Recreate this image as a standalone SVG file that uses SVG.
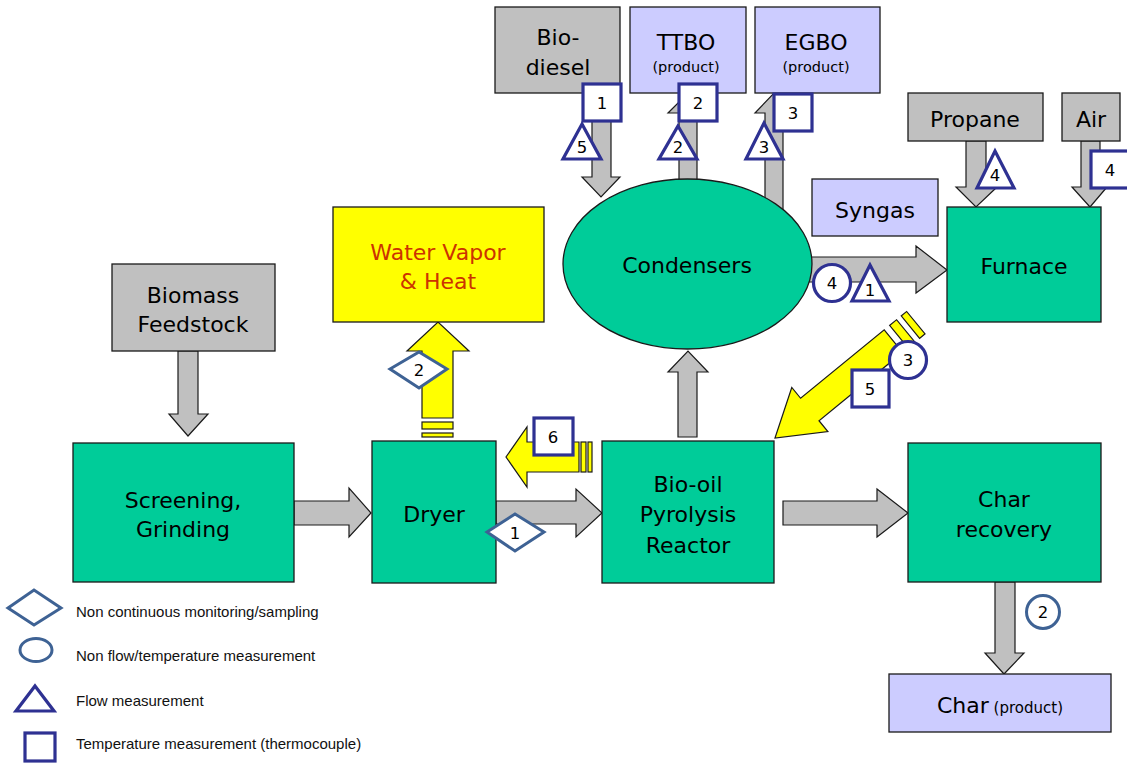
<svg xmlns="http://www.w3.org/2000/svg" width="1127" height="765" viewBox="0 0 1127 765">
<style>
.box{stroke:#1a1a1a;stroke-width:1.3}
.g{fill:#00cc99}
.gr{fill:#c0c0c0}
.lv{fill:#ccccff}
.ye{fill:#ffff00}
.ga{fill:#c0c0c0;stroke:#1a1a1a;stroke-width:1.2}
.ya{fill:#ffff00;stroke:#1a1a1a;stroke-width:1.2}
.t{font-family:"DejaVu Sans",Verdana,sans-serif;font-size:22px;fill:#000;text-anchor:middle}
.p{font-family:"DejaVu Sans",Verdana,sans-serif;font-size:14.5px;fill:#000;text-anchor:middle}
.n{font-family:"DejaVu Sans",Verdana,sans-serif;font-size:16.5px;fill:#000;text-anchor:middle}
.nv{fill:#fff;stroke:#2e3192;stroke-width:3.2}
.sb{fill:#fff;stroke:#3e6294;stroke-width:3}
.lg{font-family:"Liberation Sans",Arial,sans-serif;font-size:15px;fill:#111}
</style>

<g id="connectors">
  <polygon class="ga" points="178,351 198,351 198,414 208,414 188,436 169,414 178,414"/>
  <polygon class="ga" points="294,501 349,501 349,488 371,513 349,537 349,525 294,525"/>
  <polygon class="ga" points="496,501 576,501 576,489 602,513 576,537 576,524 496,524"/>
  <polygon class="ga" points="678,437 678,372 668,372 688,351 708,372 697,372 697,437"/>
  <polygon class="ga" points="783,501 877,501 877,489 908,513 877,537 877,525 783,525"/>
  <polygon class="ga" points="995,582 1015,582 1015,653 1024,653 1004,674 985,653 995,653"/>
  <polygon class="ga" points="790,257 916,257 916,246 947,270 916,293 916,282 790,282"/>
  <polygon class="ga" points="966,141 986,141 986,187 997,187 976,207 956,187 966,187"/>
  <polygon class="ga" points="1081,141 1100,141 1100,187 1107,187 1090,207 1072,187 1081,187"/>
  <polygon class="ga" points="592,93 611,93 611,177 620,177 601,197 582,177 592,177"/>
  <polygon class="ga" points="679,190 679,113 668,113 688,93 708,113 697,113 697,190"/>
  <polygon class="ga" points="765,225 765,113 755,113 774,93 793,113 783,113 783,225"/>
  <g id="vapor-arrow">
    <polygon class="ya" points="422,418 422,351 407,351 438,322 469,351 453,351 453,418"/>
    <rect class="ya" x="422" y="422" width="31" height="7"/>
    <rect class="ya" x="422" y="433" width="31" height="4"/>
  </g>
  <g id="heat-arrow">
    <polygon class="ya" points="579,442 527,442 527,427 506,457 527,487 527,472 579,472"/>
    <rect class="ya" x="581" y="442" width="5" height="30"/>
    <rect class="ya" x="588" y="442" width="4" height="30"/>
  </g>
  <g id="furnace-heat-arrow" transform="translate(775,438) rotate(-39.3)">
    <polygon class="ya" points="0,0 45,-28.5 45,-14.5 153,-14.5 153,14.5 45,14.5 45,28.5"/>
    <rect class="ya" x="160" y="-14.5" width="9" height="29"/>
    <rect class="ya" x="175" y="-14.5" width="7" height="29"/>
  </g>
</g>

<g id="biomass"><rect class="box gr" x="112" y="264" width="163" height="87"/><text class="t" x="193" y="303">Biomass</text><text class="t" x="193" y="332">Feedstock</text></g>
<g id="screening"><rect class="box g" x="73" y="443" width="221" height="139"/><text class="t" x="183" y="508">Screening,</text><text class="t" x="183" y="537">Grinding</text></g>
<g id="dryer"><rect class="box g" x="372" y="441" width="124" height="142"/><text class="t" x="434" y="522">Dryer</text></g>
<g id="reactor"><rect class="box g" x="602" y="441" width="172" height="142"/><text class="t" x="688" y="492">Bio-oil</text><text class="t" x="688" y="522">Pyrolysis</text><text class="t" x="688" y="553">Reactor</text></g>
<g id="char-recovery"><rect class="box g" x="908" y="443" width="193" height="139"/><text class="t" x="1004" y="507">Char</text><text class="t" x="1004" y="537">recovery</text></g>
<g id="char"><rect class="box lv" x="889" y="674" width="222" height="58"/><text class="t" x="1000" y="713">Char<tspan font-size="15px"> (product)</tspan></text></g>
<g id="water-vapor"><rect class="box ye" x="333" y="207" width="211" height="115"/><text class="t" x="438" y="260" style="fill:#cc3300">Water Vapor</text><text class="t" x="438" y="289" style="fill:#cc3300">&amp; Heat</text></g>
<g id="condensers"><ellipse class="box g" cx="687.5" cy="264" rx="124.5" ry="85"/><text class="t" x="687" y="273">Condensers</text></g>
<g id="biodiesel"><rect class="box gr" x="495" y="7" width="125" height="86"/><text class="t" x="558" y="45">Bio-</text><text class="t" x="558" y="75">diesel</text></g>
<g id="ttbo"><rect class="box lv" x="630" y="7" width="116" height="86"/><text class="t" x="686" y="50">TTBO</text><text class="p" x="686" y="72">(product)</text></g>
<g id="egbo"><rect class="box lv" x="755" y="7" width="125" height="86"/><text class="t" x="816" y="50">EGBO</text><text class="p" x="816" y="72">(product)</text></g>
<g id="syngas"><rect class="box lv" x="812" y="179" width="126" height="57"/><text class="t" x="875" y="218">Syngas</text></g>
<g id="propane"><rect class="box gr" x="908" y="93" width="135" height="48"/><text class="t" x="975" y="127">Propane</text></g>
<g id="air"><rect class="box gr" x="1062" y="93" width="58" height="48"/><text class="t" x="1091" y="127">Air</text></g>
<g id="furnace"><rect class="box g" x="947" y="207" width="154" height="115"/><text class="t" x="1024" y="274">Furnace</text></g>

<g id="markers">
  <g id="T1"><rect class="nv" x="583" y="84" width="38" height="37"/><text class="n" x="602" y="109">1</text></g>
  <g id="F5"><polygon class="nv" points="582,124 601,159 563,159"/><text class="n" x="582" y="153">5</text></g>
  <g id="T2"><rect class="nv" x="679" y="84" width="38" height="37"/><text class="n" x="698" y="109">2</text></g>
  <g id="F2"><polygon class="nv" points="678,126 697,159 659,159"/><text class="n" x="678" y="153">2</text></g>
  <g id="T3"><rect class="nv" x="774" y="94" width="38" height="37"/><text class="n" x="793" y="119">3</text></g>
  <g id="F3"><polygon class="nv" points="764,123 783,159 746,159"/><text class="n" x="764" y="153">3</text></g>
  <g id="F4"><polygon class="nv" points="995,151 1014,188 977,188"/><text class="n" x="995" y="181">4</text></g>
  <g id="T4"><rect class="nv" x="1091" y="151" width="40" height="37"/><text class="n" x="1110" y="176">4</text></g>
  <g id="N4"><circle class="nv" cx="832" cy="283" r="18.5"/><text class="n" x="832" y="289">4</text></g>
  <g id="F1"><polygon class="nv" points="870,265 889,301 852,301"/><text class="n" x="870" y="296">1</text></g>
  <g id="N3"><circle class="nv" cx="908" cy="360" r="18.5"/><text class="n" x="908" y="366">3</text></g>
  <g id="T5"><rect class="nv" x="852" y="370" width="37" height="37"/><text class="n" x="870" y="395">5</text></g>
  <g id="T6"><rect class="nv" x="534" y="418" width="39" height="37"/><text class="n" x="553" y="443">6</text></g>
  <g id="S2"><polygon class="sb" points="390,369 419,352 447,369 419,388"/><text class="n" x="419" y="376">2</text></g>
  <g id="S1"><polygon class="sb" points="487,532 515,514 544,532 515,551"/><text class="n" x="515" y="539">1</text></g>
  <g id="N2"><circle class="sb" cx="1043" cy="612" r="16.5"/><text class="n" x="1043" y="618">2</text></g>
</g>

<g id="legend">
  <polygon class="sb" points="8,608 34,590 61,608 34,625"/>
  <text class="lg" x="76" y="617">Non continuous monitoring/sampling</text>
  <ellipse class="sb" cx="36" cy="650" rx="16" ry="11.5" stroke-width="4"/>
  <text class="lg" x="76" y="661">Non flow/temperature measurement</text>
  <polygon class="nv" points="35,686 54,711 16,711"/>
  <text class="lg" x="76" y="706">Flow measurement</text>
  <rect class="nv" x="25" y="733" width="30" height="28"/>
  <text class="lg" x="76" y="749">Temperature measurement (thermocouple)</text>
</g>
</svg>
